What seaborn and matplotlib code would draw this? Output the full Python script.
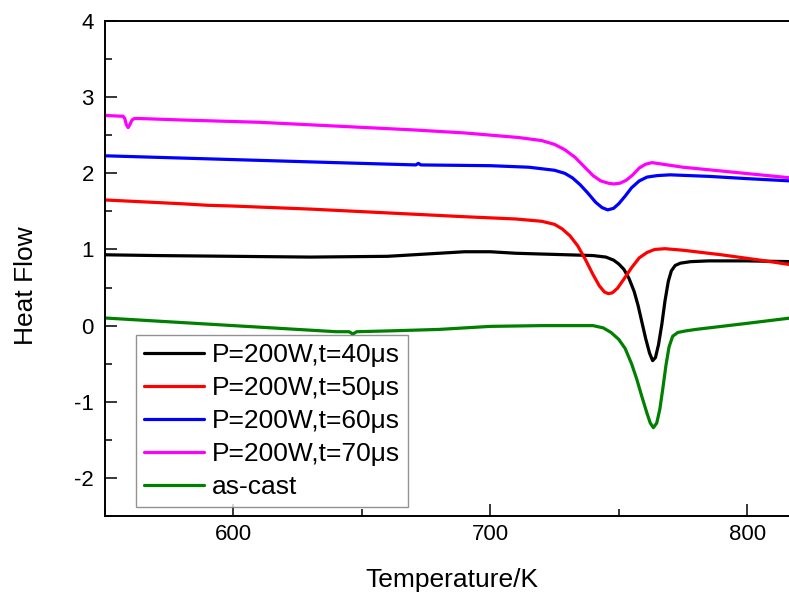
import matplotlib
matplotlib.use("Agg")
import matplotlib.pyplot as plt
import pandas as pd
import seaborn as sns
from matplotlib.ticker import MultipleLocator

# P=200W, t=40us (black)
temp_40 = [550, 570, 600, 630, 660, 680, 690, 700, 710, 720, 730, 740, 745, 748, 750, 752,
           754, 756, 757.5, 759, 760.5, 762, 763.2, 764.3, 765.5, 766.8, 768, 769.3, 770.5, 772,
           774, 778, 785, 800, 817]
heat_40 = [0.93, 0.92, 0.91, 0.90, 0.91, 0.95, 0.97, 0.97, 0.95, 0.94, 0.93, 0.92, 0.90, 0.86, 0.81, 0.74,
           0.62, 0.45, 0.27, 0.05, -0.17, -0.36, -0.46, -0.42, -0.25, 0.02, 0.32, 0.58, 0.72, 0.79,
           0.82, 0.84, 0.85, 0.85, 0.84]

# P=200W, t=50us (red)
temp_50 = [550, 580, 590, 600, 630, 660, 690, 710, 720, 725, 728, 731, 734, 737, 740, 742.5,
           744.5, 746, 747.5, 749.5, 752, 755, 758, 761, 764, 768, 775, 790, 805, 817]
heat_50 = [1.65, 1.60, 1.58, 1.57, 1.53, 1.48, 1.43, 1.40, 1.37, 1.33, 1.27, 1.18, 1.05, 0.87, 0.67, 0.52,
           0.44, 0.42, 0.43, 0.49, 0.61, 0.76, 0.89, 0.96, 1.00, 1.01, 0.99, 0.93, 0.86, 0.80]

# P=200W, t=60us (blue)
temp_60 = [550, 580, 610, 640, 671, 672, 673, 700, 715, 725, 729, 732, 735, 738, 741, 743.5,
           745.7, 748, 750, 752.5, 755, 758, 761, 765, 770, 785, 800, 817]
heat_60 = [2.23, 2.20, 2.17, 2.14, 2.11, 2.13, 2.11, 2.10, 2.08, 2.04, 2.00, 1.94, 1.85, 1.74, 1.62, 1.55,
           1.52, 1.54, 1.60, 1.70, 1.81, 1.90, 1.95, 1.97, 1.98, 1.96, 1.93, 1.90]

# P=200W, t=70us (magenta)
temp_70 = [550, 556, 557, 557.7, 558.3, 559, 559.7, 560.5, 561.5, 563, 580, 610, 640, 670, 690, 711,
           720, 725, 729, 733, 736.5, 740, 743, 746, 748, 750.5, 753, 755.5, 758, 760.5,
           763, 767, 775, 790, 805, 817]
heat_70 = [2.76, 2.75, 2.75, 2.72, 2.64, 2.60, 2.64, 2.70, 2.72, 2.72, 2.70, 2.67, 2.62, 2.57, 2.53, 2.47,
           2.43, 2.38, 2.31, 2.21, 2.09, 1.97, 1.90, 1.87, 1.86, 1.87, 1.91, 1.98, 2.07, 2.12,
           2.14, 2.12, 2.08, 2.03, 1.98, 1.94]

# as-cast (green)
temp_cast = [550, 575, 600, 625, 640, 645, 646.5, 648, 660, 680, 700, 720, 740, 744, 747, 750,
             752.5, 755, 757, 759, 761, 762.3, 763.5, 764.8, 766, 767.2, 768.4, 769.6, 771, 773,
             776, 780, 800, 817]
heat_cast = [0.10, 0.05, 0.00, -0.05, -0.08, -0.08, -0.11, -0.08, -0.07, -0.05, -0.01, 0.00, 0.00, -0.03, -0.09, -0.18,
             -0.30, -0.50, -0.70, -0.93, -1.15, -1.28, -1.34, -1.28, -1.10, -0.82, -0.52, -0.28, -0.14, -0.09,
             -0.07, -0.05, 0.03, 0.10]

labels = ["P=200W,t=40\u03bcs", "P=200W,t=50\u03bcs", "P=200W,t=60\u03bcs",
          "P=200W,t=70\u03bcs", "as-cast"]
colors = ["#000000", "#ff0000", "#0000ff", "#ff00ff", "#008000"]

series = [(temp_40, heat_40), (temp_50, heat_50), (temp_60, heat_60),
          (temp_70, heat_70), (temp_cast, heat_cast)]
frames = []
for lab, (t, h) in zip(labels, series):
    frames.append(pd.DataFrame({"T": t, "H": h, "sample": lab}))
df = pd.concat(frames, ignore_index=True)

sns.set_theme(style="ticks")
plt.rcParams["font.family"] = ["Liberation Sans", "DejaVu Sans"]
plt.rcParams["axes.unicode_minus"] = False
plt.rcParams["text.color"] = "black"
plt.rcParams["axes.labelcolor"] = "black"
plt.rcParams["xtick.color"] = "black"
plt.rcParams["ytick.color"] = "black"
plt.rcParams["xtick.labelcolor"] = "black"
plt.rcParams["ytick.labelcolor"] = "black"

fig = plt.figure(figsize=(7.89, 5.94), dpi=100)
ax = fig.add_axes([105 / 789, 78 / 594, 684 / 789, 495 / 594])

sns.lineplot(data=df, x="T", y="H", hue="sample", hue_order=labels,
             palette=dict(zip(labels, colors)), estimator=None, sort=False,
             linewidth=2.3, ax=ax)

ax.set_xlim(550, 816.3)
ax.set_ylim(-2.5, 4)
ax.xaxis.set_major_locator(MultipleLocator(100))
ax.xaxis.set_minor_locator(MultipleLocator(50))
ax.yaxis.set_major_locator(MultipleLocator(1))
ax.yaxis.set_minor_locator(MultipleLocator(0.5))

ax.tick_params(which="both", direction="in", width=1.1, color="black",
               labelcolor="black", labelsize=16)
ax.tick_params(which="major", length=8.5)
ax.tick_params(which="minor", length=5)
ax.tick_params(axis="y", pad=8)
ax.tick_params(axis="x", pad=6)
ax.spines["right"].set_visible(False)
for s in ["left", "top", "bottom"]:
    ax.spines[s].set_linewidth(1.4)
    ax.spines[s].set_color("black")

ax.set_xlabel("Temperature/K", fontsize=19, color="black")
ax.set_ylabel("Heat Flow", fontsize=19, color="black")
ax.xaxis.set_label_coords(0.507, -0.105)
ax.yaxis.set_label_coords(-0.098, 0.465)

leg = ax.legend(loc="lower left", bbox_to_anchor=(0.045, 0.018), borderaxespad=0,
                fontsize=19, fancybox=False, frameon=True, handlelength=2.3,
                handletextpad=0.3, labelspacing=0.34, borderpad=0.3, title=None)
leg.get_frame().set_edgecolor("#777777")
leg.get_frame().set_linewidth(1.0)
for line in leg.get_lines():
    line.set_linewidth(2.3)
for txt in leg.get_texts():
    txt.set_color("black")

fig.savefig("out.png", dpi=100)
